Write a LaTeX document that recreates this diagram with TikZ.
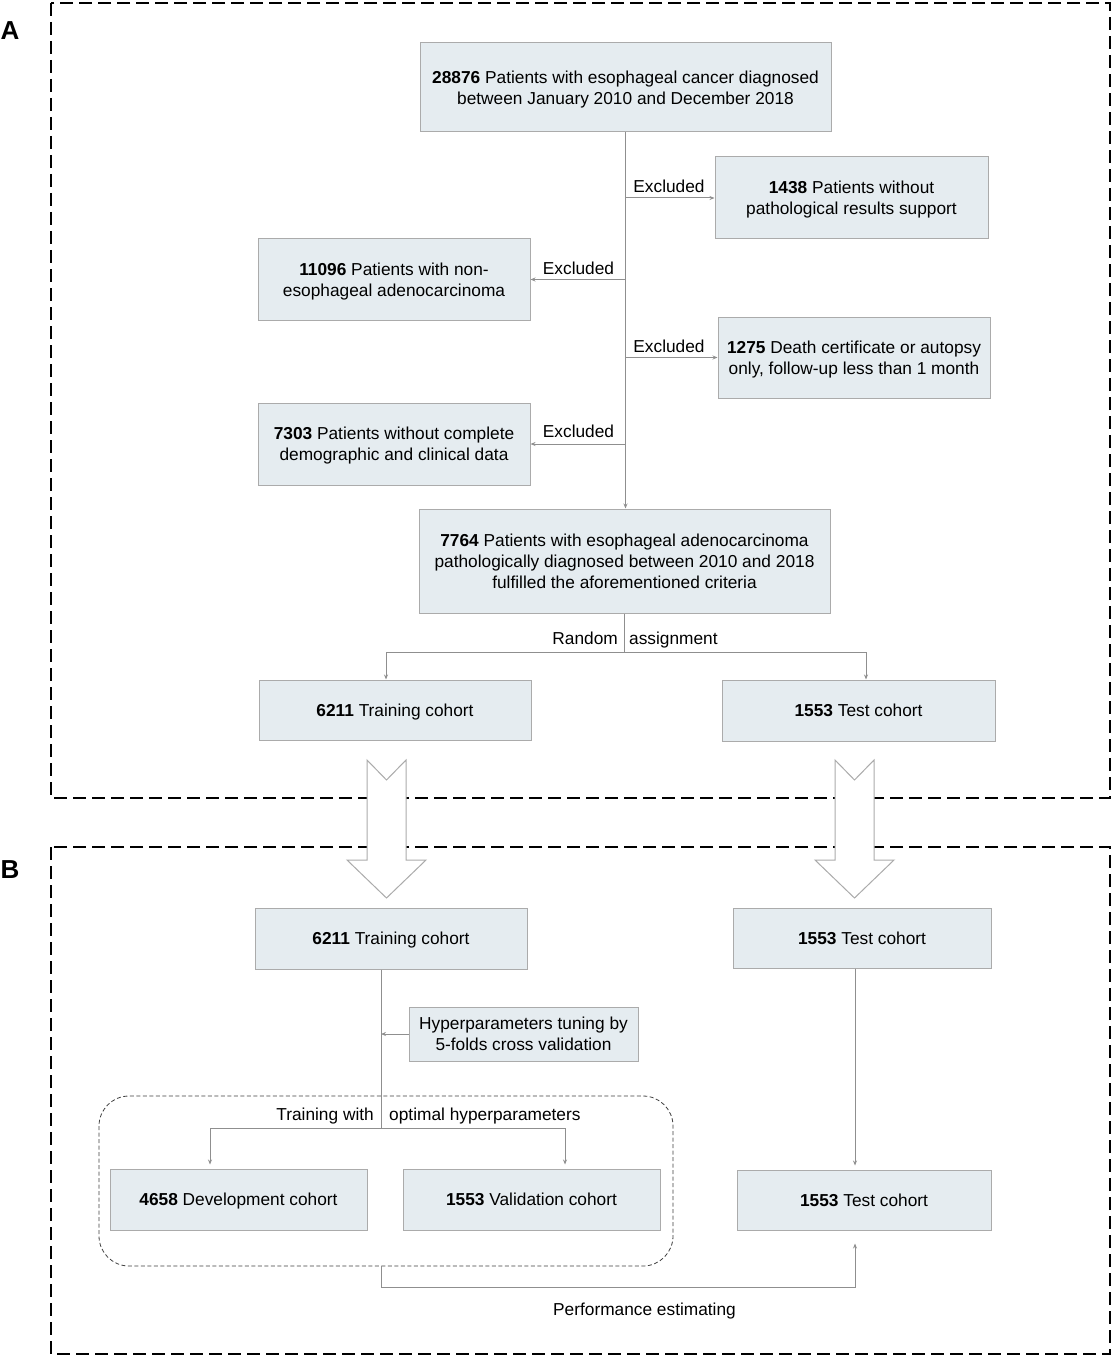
\documentclass[tikz,border=0pt]{standalone}
\usepackage{fontspec}
\setmainfont{Liberation Sans}
\usetikzlibrary{arrows.meta}
\definecolor{boxfill}{HTML}{E5ECF0}
\definecolor{boxline}{HTML}{ABABAB}
\definecolor{conncol}{HTML}{8F8F8F}
\begin{document}
\begin{tikzpicture}[x=1pt,y=-1pt,
 box/.style={draw=boxline, fill=boxfill, line width=1pt, align=center, inner sep=0pt, text depth=0pt, font=\fontsize{17.3}{21}\selectfont},
 conn/.style={draw=conncol, line width=1pt},
 arr/.style={conn, -{Stealth[length=5pt,width=4pt]}},
 lbl/.style={font=\fontsize{17.3}{21}\selectfont, inner sep=0pt},
 frame/.style={draw=black, line width=2pt, dash pattern=on 13pt off 6pt},
 bigarrow/.style={draw=boxline, fill=white, line width=1pt},
 panel/.style={font=\fontsize{26}{26}\selectfont\bfseries, inner sep=0pt}]
\useasboundingbox (0,0) rectangle (1113,1356);
\fill[white] (0,0) rectangle (1113,1356);

% frames
\draw[frame] (51,3) rectangle (1110,798);
\draw[frame] (51,847) rectangle (1110,1354);
\node[panel] (pA) at (10,31) {A};
\node[panel] (pB) at (10,870) {B};

% big hollow arrows
\draw[bigarrow] (367,760) -- (386.5,780) -- (406,760) -- (406,860) -- (426,860) -- (386.5,898) -- (347,860) -- (367,860) -- cycle;
\draw[bigarrow] (835,760) -- (854.5,780) -- (874,760) -- (874,860) -- (894,860) -- (854.5,898) -- (815,860) -- (835,860) -- cycle;

% rounded dashed group
\draw[draw=black!75, line width=0.8pt, dash pattern=on 4pt off 2.5pt, rounded corners=30pt] (99,1096) rectangle (673,1266);

% boxes panel A
\node[box, minimum width=411, minimum height=89] (n28876) at (625.5,87.5) {\textbf{28876} Patients with esophageal cancer diagnosed\\between January 2010 and December 2018};
\node[box, minimum width=273, minimum height=82] (n1438) at (851.5,198) {\textbf{1438} Patients without\\pathological results support};
\node[box, minimum width=272, minimum height=81] (n11096) at (394,279.5) {\textbf{11096} Patients with non-\\esophageal adenocarcinoma};
\node[box, minimum width=272, minimum height=81] (n1275) at (854,357.5) {\textbf{1275} Death certificate or autopsy\\only, follow-up less than 1 month};
\node[box, minimum width=272, minimum height=82] (n7303) at (394,444) {\textbf{7303} Patients without complete\\demographic and clinical data};
\node[box, minimum width=411, minimum height=104] (n7764) at (624.5,561) {\textbf{7764} Patients with esophageal adenocarcinoma\\pathologically diagnosed between 2010 and 2018\\fulfilled the aforementioned criteria};
\node[box, minimum width=272, minimum height=60] (trA) at (395,710) {\textbf{6211} Training cohort};
\node[box, minimum width=273, minimum height=61] (teA) at (858.5,710.5) {\textbf{1553} Test cohort};

% boxes panel B
\node[box, minimum width=272, minimum height=61] (trB) at (391,938.5) {\textbf{6211} Training cohort};
\node[box, minimum width=258, minimum height=60] (teB) at (862,938) {\textbf{1553} Test cohort};
\node[box, minimum width=229, minimum height=54] (hyp) at (523.5,1034) {Hyperparameters tuning by\\5-folds cross validation};
\node[box, minimum width=257, minimum height=61] (dev) at (238.5,1199.5) {\textbf{4658} Development cohort};
\node[box, minimum width=257, minimum height=61] (val) at (531.5,1199.5) {\textbf{1553} Validation cohort};
\node[box, minimum width=254, minimum height=60] (teC) at (864,1200) {\textbf{1553} Test cohort};

% connectors panel A
\draw[arr] (n28876.south) -- (n28876.south |- n7764.north);
\draw[arr] (n28876.south |- n1438.west) -- (n1438.west);
\draw[arr] (n28876.south |- n11096.east) -- (n11096.east);
\draw[arr] (n28876.south |- n1275.west) -- (n1275.west);
\draw[arr] (n28876.south |- n7303.east) -- (n7303.east);
\node[lbl, anchor=base] (e1) at (669,193) {Excluded};
\node[lbl, anchor=base] (e2) at (578.5,274) {Excluded};
\node[lbl, anchor=base] (e3) at (669,352) {Excluded};
\node[lbl, anchor=base] (e4) at (578.5,437) {Excluded};

\coordinate (ra) at (624.5,652);
\coordinate (raL) at (386,652);
\coordinate (raR) at (866,652);
\draw[conn] (n7764.south) -- (ra);
\draw[conn] (raL) -- (raR);
\draw[arr] (raL) -- (raL |- trA.north);
\draw[arr] (raR) -- (raR |- teA.north);
\node[lbl, anchor=base east] (r1) at (618,644) {Random};
\node[lbl, anchor=base west] (r2) at (629,644) {assignment};

% connectors panel B
\coordinate (bL) at (381,1128);
\coordinate (dL) at (210,1128);
\coordinate (vR) at (565,1128);
\draw[conn] (bL |- trB.south) -- (bL);
\draw[conn] (dL) -- (vR);
\draw[arr, shorten >=4pt] (dL) -- (dL |- dev.north);
\draw[arr, shorten >=4pt] (vR) -- (vR |- val.north);
\draw[arr] (hyp.west) -- (bL |- hyp.west);
\node[lbl, anchor=base east] (t1) at (374,1120) {Training with};
\node[lbl, anchor=base west] (t2) at (389,1120) {optimal hyperparameters};

\coordinate (tx) at (855,0);
\draw[arr, shorten >=4pt] (tx |- teB.south) -- (tx |- teC.north);

\coordinate (rb) at (381,1266);
\coordinate (pL) at (381,1287);
\coordinate (pR) at (855,1287);
\draw[arr, shorten >=13pt] (rb) -- (pL) -- (pR) -- (pR |- teC.south);
\node[lbl, anchor=base] (pe) at (644.5,1315) {Performance estimating};
\end{tikzpicture}
\end{document}
